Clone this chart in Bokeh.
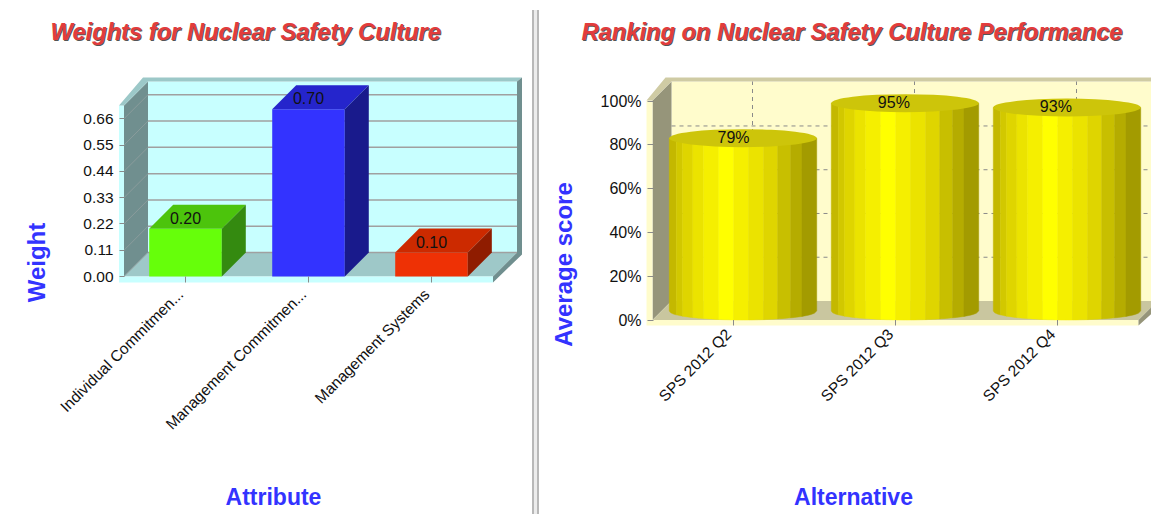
from math import pi, sqrt
from bokeh.embed import file_html
from bokeh.resources import INLINE
from bokeh.layouts import row
from bokeh.models import Range1d, FixedTicker, NumeralTickFormatter, Label, Div
from bokeh.plotting import figure

# ---- data ----
attributes = ["Individual Commitmen...", "Management Commitmen...", "Management Systems"]
weights = [0.20, 0.70, 0.10]
weight_labels = ["0.20", "0.70", "0.10"]
weight_ticks = [0.00, 0.11, 0.22, 0.33, 0.44, 0.55, 0.66]
bar_front = ["#66ff0a", "#3333ff", "#ee3105"]
bar_top = ["#4cc40c", "#2525cc", "#cc2a00"]
bar_side = ["#348a10", "#191a8c", "#8f1c00"]

alternatives = ["SPS 2012 Q2", "SPS 2012 Q3", "SPS 2012 Q4"]
scores = [79, 95, 93]
score_labels = ["79%", "95%", "93%"]
score_ticks = [0, 20, 40, 60, 80, 100]
stripe_edges = [0, .048, .09, .16, .233, .336, .437, .537, .64, .735, .823, .9, 1]
stripe_colors = ["#c4b800", "#d2c800", "#dfd500", "#ebe300", "#f5ef00", "#ffff00",
                 "#f5ef00", "#ebe300", "#dfd500", "#c8bf00", "#b5ac00", "#a39b00"]

TITLE_RED = "#e23c3c"
AXIS_BLUE = "#3333ff"
FONT = "Liberation Sans"
H = 514


def shell(p, x0, x1, ytop, dx, dy, rx, ry, strip, wall, rim, side, floor):
    """3D box: back wall, side wall, floor and rims, from the axis extents."""
    bx0, bx1, btop = x0 + dx, x1 + dx, ytop + dy
    polys = [
        ([bx0, bx1, bx1, bx0], [dy, dy, btop, btop], wall),
        ([x0, bx0, bx0, x0], [0, dy, btop, ytop], side),
        ([x0, bx0, bx1, x1], [0, dy, dy, 0], floor),
        ([x0 - rx, x0, x0, x1, x1, x0 - rx], [ytop, ytop, 0, 0, -strip, -strip], wall),
        ([x0 - rx, x0, bx0, bx1, bx1 + rx, bx0 - rx],
         [ytop, ytop, btop, btop, btop + ry, btop + ry], rim),
        ([bx1, bx1 + rx, bx1 + rx, x1, x1, bx1],
         [btop, btop + ry, dy - ry * .5, -strip, 0, dy], side),
    ]
    p.patches([q[0] for q in polys], [q[1] for q in polys], fill_color=[q[2] for q in polys],
              line_color=None)


def base(width, x_range, y_range, axis_x, axis_y):
    p = figure(width=width, height=H, x_range=Range1d(*x_range), y_range=Range1d(*y_range),
               output_backend="svg", toolbar_location=None, min_border_left=0,
               min_border_right=0, min_border_top=0, min_border_bottom=0)
    p.outline_line_color = None
    p.grid.visible = False
    p.title = None
    p.xaxis[0].fixed_location = axis_y
    p.yaxis[0].fixed_location = axis_x
    for ax in (p.xaxis[0], p.yaxis[0]):
        ax.axis_line_color = None
        ax.major_tick_in = 5
        ax.major_tick_out = 0
        ax.minor_tick_line_color = None
        ax.major_tick_line_color = "#8a8a8a"
        ax.major_label_text_font = FONT
        ax.major_label_text_color = "#111111"
    p.xaxis[0].major_label_orientation = pi / 4
    return p


def heading(p, x, y, text):
    for dx, dy, col in ((0.0, 0.0, "#555555"), (-1 * x[1], -1 * y[1], TITLE_RED)):
        p.add_layout(Label(x=x[0] + dx, y=y[0] + dy, text=text, text_font=FONT, text_baseline="alphabetic",
                           text_font_size="23.7px", text_font_style="bold italic", text_color=col))


def captions(p, to_x, to_y, xlab, xpos, ylab, ypos):
    p.add_layout(Label(x=to_x(xpos[0]), y=to_y(xpos[1]), text=xlab, text_align="center",
                       text_baseline="middle", text_font=FONT, text_font_size="23px",
                       text_font_style="bold", text_color=AXIS_BLUE))
    p.add_layout(Label(x=to_x(ypos[0]), y=to_y(ypos[1]), text=ylab, angle=pi / 2, text_align="center",
                       text_baseline="middle", text_font=FONT, text_font_size="24px",
                       text_font_style="bold", text_color=AXIS_BLUE))


def category_axis(p, names, unit, y_low, y_tick, standoff):
    """Rotated labels sit 5px left of their tick marks, as in the reference."""
    nudge = 5 / unit
    ticks = [i - nudge for i in range(len(names))]
    ax = p.xaxis[0]
    ax.ticker = FixedTicker(ticks=ticks)
    ax.major_label_overrides = {t: n for t, n in zip(ticks, names)}
    ax.major_label_text_font_size = "15.5px"
    ax.major_label_standoff = standoff
    ax.major_tick_line_color = None
    p.segment(x0=list(range(len(names))), x1=list(range(len(names))), y0=[y_low] * len(names),
              y1=[y_tick] * len(names), line_color="#8a8a8a")


# ---- left chart ----
LX = 123.0   # px per category
LY = 239.0   # px per weight unit
lx = lambda px: (px - 185) / LX
ly = lambda py: (276 - py) / LY

left = base(532, (lx(0), lx(532)), (ly(H), ly(0)), lx(119), ly(282))
ddx, ddy = 24 / LX, 24 / LY
ltop = ly(105)
heading(left, (lx(51), 1 / LX), (ly(32), -1 / LY), "Weights for Nuclear Safety Culture")
shell(left, -0.5, 2.5, ltop, ddx, ddy, 5 / LX, 4 / LY, 6 / LY, "#c8ffff", "#9cc8c8", "#708f8f", "#9ec8c8")
left.segment(x0=[-0.5 + ddx] * 7, x1=[2.5 + ddx] * 7, y0=[t + ddy for t in weight_ticks],
             y1=[t + ddy for t in weight_ticks], line_color="#a0a0a0", line_width=1.5)
left.segment(x0=[-0.5] * 7, x1=[-0.5 + ddx] * 7, y0=weight_ticks,
             y1=[t + ddy for t in weight_ticks], line_color="#8a9c9c", line_width=1)

hw = 0.295
for i, w in enumerate(weights):
    left.patches(
        [[i - hw, i + hw, i + hw, i - hw],
         [i - hw, i + hw, i + hw + ddx, i - hw + ddx],
         [i + hw, i + hw + ddx, i + hw + ddx, i + hw]],
        [[0, 0, w, w], [w, w, w + ddy, w + ddy], [0, ddy, w + ddy, w]],
        fill_color=[bar_front[i], bar_top[i], bar_side[i]], line_color=None)

left.text(x=list(range(3)), y=weights, text=weight_labels, text_align="center", text_baseline="middle",
          y_offset=-11, text_font={"value": FONT}, text_font_size={"value": "16px"}, text_color="#111111")
category_axis(left, attributes, LX, ly(282), ly(276), 9)
left.yaxis[0].ticker = FixedTicker(ticks=weight_ticks)
left.yaxis[0].formatter = NumeralTickFormatter(format="0.00")
left.yaxis[0].major_label_text_font_size = "15.5px"
left.yaxis[0].major_label_standoff = 6
captions(left, lx, ly, "Attribute", (273, 496), "Weight", (36, 262))

# ---- right chart ----
RX = 162.0
RY = 2.188
rx = lambda px: (px - 733) / RX
ry = lambda py: (319.5 - py) / RY

right = base(612, (rx(539), rx(1151)), (ry(H), ry(0)), rx(647), ry(325))
sdx, sdy = 19 / RX, 19 / RY
rtop = ry(100)
heading(right, (rx(582), 1 / RX), (ry(32), -1 / RY), "Ranking on Nuclear Safety Culture Performance")
shell(right, -0.5, 2.5, rtop, sdx, sdy, 6 / RX, 4 / RY, 5.5 / RY, "#fffccc", "#cfcba4", "#96957a", "#c9c69f")
inner = [t for t in score_ticks if 0 < t < 100]
right.segment(x0=[-0.5 + sdx] * 4, x1=[2.5 + sdx] * 4, y0=[t + sdy for t in inner],
              y1=[t + sdy for t in inner], line_color="#8a8a8a", line_dash="4 4", line_width=1)
right.segment(x0=[i + sdx for i in range(3)], x1=[i + sdx for i in range(3)], y0=[sdy] * 3,
              y1=[rtop + sdy] * 3, line_color="#8a8a8a", line_dash="4 4", line_width=1)

ecx, ecy = 9.5 / RX, 9 / RY
half = 0.455
erad = 9 / RY
for i, s in enumerate(scores):
    cx = i + ecx
    xs, ys = [], []
    for k in range(len(stripe_colors)):
        a, b = stripe_edges[k], stripe_edges[k + 1]
        us = [a + (b - a) * j / 6 for j in range(7)]
        px = [cx - half + 2 * half * u for u in us]
        py = [ecy - erad * sqrt(max(0.0, 1 - (2 * u - 1) ** 2)) for u in us]
        xs.append([px[0], px[-1]] + px[::-1])
        ys.append([s + ecy, s + ecy] + py[::-1])
    right.patches(xs, ys, fill_color=stripe_colors, line_color=stripe_colors, line_width=0.5)
    right.ellipse(x=[cx], y=[s + ecy], width=2 * half, height=2 * erad, fill_color="#cdc50a", line_color=None)

right.text(x=[0, 1 - 0.01, 2 - 0.01], y=scores, text=score_labels, text_align="center", text_baseline="middle",
           y_offset=-10, text_font={"value": FONT}, text_font_size={"value": "16px"}, text_color="#111111")
category_axis(right, alternatives, RX, ry(325), ry(319.5), 6)
right.yaxis[0].ticker = FixedTicker(ticks=score_ticks)
right.yaxis[0].formatter = NumeralTickFormatter(format='0"%"')
right.yaxis[0].major_label_overrides = {t: f"{t}%" for t in score_ticks}
right.yaxis[0].major_label_text_font_size = "16px"
right.yaxis[0].major_label_standoff = 6
right.yaxis[0].major_tick_in = 6
captions(right, rx, ry, "Alternative", (853, 496), "Average score", (563, 264))

divider = Div(width=7, height=H - 10, margin=(10, 0, 0, 0),
              styles={"background": "#ececec", "border-left": "2px solid #b8b8b8",
                      "border-right": "2px solid #b8b8b8", "box-sizing": "border-box"})

page = row(left, divider, right, spacing=0)
open("out.html", "w").write(file_html(page, INLINE))
